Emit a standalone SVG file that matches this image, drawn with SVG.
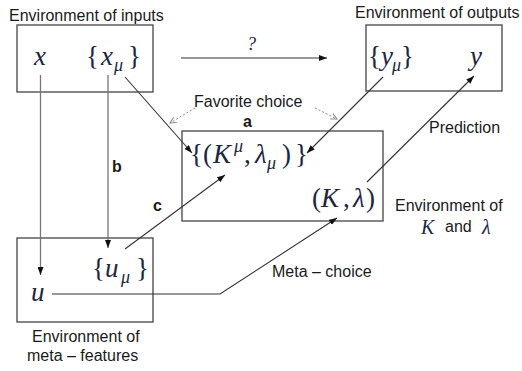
<svg xmlns="http://www.w3.org/2000/svg" width="522" height="371" viewBox="0 0 522 371">
<style>
  .box { fill: none; stroke: #444; stroke-width: 1.3; }
  .lbl { font-family: "Liberation Sans", Arial, sans-serif; font-size: 16px; fill: #1a1a1a; }
  .bold { font-weight: bold; }
  .m { font-family: "Liberation Serif", "Times New Roman", serif; font-size: 27px; fill: #1b2544; }
  .mi { font-style: italic; }
  .sub { font-family: "Liberation Serif", "Times New Roman", serif; font-style: italic; font-size: 18px; fill: #1b2544; }
  .edge { fill: none; stroke: #333; stroke-width: 1.1; }
  .vedge { fill: none; stroke: #777; stroke-width: 1.3; }
  .dot { fill: none; stroke: #888; stroke-width: 1; stroke-dasharray: 2 2; }
</style>
<defs>
  <marker id="ah" viewBox="0 0 8 6" refX="8" refY="3" markerWidth="8" markerHeight="6" markerUnits="userSpaceOnUse" orient="auto">
    <path d="M0,0 L8,3 L0,6 z" fill="#111"/>
  </marker>
  <marker id="dh" viewBox="0 0 8 8" refX="7" refY="4" markerWidth="8" markerHeight="8" markerUnits="userSpaceOnUse" orient="auto">
    <path d="M1,1 L7,4 L1,7" fill="none" stroke="#888" stroke-width="1"/>
  </marker>
</defs>

<g id="node-inputs">
  <text class="lbl" x="9" y="21">Environment of inputs</text>
  <rect class="box" x="17" y="25" width="136" height="67"/>
  <text class="m mi" x="34" y="65">x</text>
  <text class="m" x="86" y="65">{</text>
  <text class="m mi" x="101" y="65">x</text>
  <text class="sub" x="114" y="71">μ</text>
  <text class="m" x="128" y="65">}</text>
</g>

<g id="node-outputs">
  <text class="lbl" x="355" y="18">Environment of outputs</text>
  <rect class="box" x="366" y="25" width="136" height="66"/>
  <text class="m" x="368" y="65">{</text>
  <text class="m mi" x="381" y="65">y</text>
  <text class="sub" x="392" y="71">μ</text>
  <text class="m" x="401" y="65">}</text>
  <text class="m mi" x="470" y="65">y</text>
</g>

<g id="node-kl">
  <rect class="box" x="182" y="131" width="201" height="90"/>
  <text class="m" x="190" y="163">{</text>
  <text class="m" x="203" y="163">(</text>
  <text class="m mi" x="213" y="163">K</text>
  <text class="sub" x="234" y="152">μ</text>
  <text class="m" x="244" y="163">,</text>
  <text class="m mi" x="255" y="163">λ</text>
  <text class="sub" x="267" y="169">μ</text>
  <text class="m" x="282" y="163">)</text>
  <text class="m" x="295" y="163">}</text>
  <text class="m" x="312" y="207">(</text>
  <text class="m mi" x="321" y="207">K</text>
  <text class="m" x="343" y="207">,</text>
  <text class="m mi" x="353" y="207">λ</text>
  <text class="m" x="366" y="207">)</text>
  <text class="lbl" x="395" y="211">Environment of</text>
  <text class="m mi" x="421" y="234" style="font-size:20px">K</text>
  <text class="lbl" x="445" y="232">and</text>
  <text class="m mi" x="482" y="234" style="font-size:20px">λ</text>
</g>

<g id="node-meta">
  <rect class="box" x="17" y="238" width="136" height="84"/>
  <text class="m mi" x="31" y="301">u</text>
  <text class="m" x="92" y="277">{</text>
  <text class="m mi" x="105" y="277">u</text>
  <text class="sub" x="121" y="283">μ</text>
  <text class="m" x="136" y="277">}</text>
  <text class="lbl" x="32" y="342">Environment of</text>
  <text class="lbl" x="27" y="361">meta – features</text>
</g>

<g id="connectors">
  <path class="edge" d="M181,58 L327,58" marker-end="url(#ah)"/>
  <text x="247" y="50" style="font-family:'Liberation Serif',serif;font-size:18px;font-style:italic;fill:#1b2544">?</text>

  <path class="vedge" d="M40.5,75 L40.5,275" marker-end="url(#ah)"/>
  <path class="vedge" d="M108,75 L108,248" marker-end="url(#ah)"/>
  <text class="lbl bold" x="112" y="172">b</text>

  <path class="edge" d="M125,77 L192,153" marker-end="url(#ah)"/>
  <path class="edge" d="M383,77 L307,153" marker-end="url(#ah)"/>
  <path class="edge" d="M125,249 L225,175" marker-end="url(#ah)"/>
  <text class="lbl bold" x="153" y="211">c</text>
  <path class="edge" d="M367,182 L474,76" marker-end="url(#ah)"/>
  <text class="lbl" x="429" y="133">Prediction</text>
  <path class="edge" d="M52,294 L220,294 L337,218" marker-end="url(#ah)"/>
  <text class="lbl" x="272" y="277">Meta – choice</text>

  <text class="lbl" x="194" y="107">Favorite choice</text>
  <text class="lbl bold" x="243" y="127">a</text>
  <path class="dot" d="M195,108 L170,123" marker-end="url(#dh)"/>
  <path class="dot" d="M315,108 L337,119" marker-end="url(#dh)"/>
</g>
</svg>
